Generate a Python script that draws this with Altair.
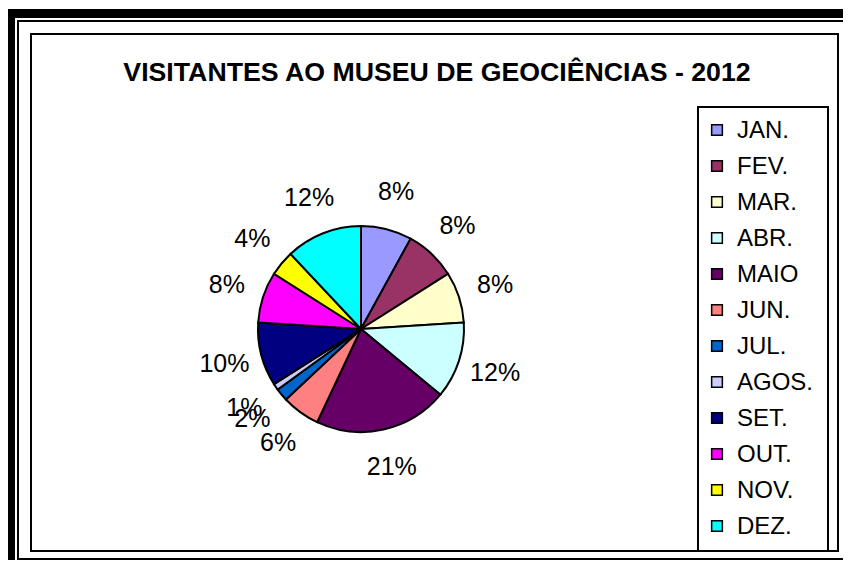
import altair as alt
import pandas as pd

# ---- data ----
months = ["JAN.", "FEV.", "MAR.", "ABR.", "MAIO", "JUN.", "JUL.", "AGOS.",
          "SET.", "OUT.", "NOV.", "DEZ."]
share = [8, 8, 8, 12, 21, 6, 2, 1, 10, 8, 4, 12]
colors = ["#9999FF", "#993366", "#FFFFCC", "#CCFFFF", "#660066", "#FF8080",
          "#0066CC", "#CCCCFF", "#000080", "#FF00FF", "#FFFF00", "#00FFFF"]
title_text = "VISITANTES AO MUSEU DE GEOCIÊNCIAS - 2012"

df = pd.DataFrame({
    "mes": months,
    "valor": share,
    "ordem": list(range(len(months))),
    "rotulo": [f"{v}%" for v in share],
})
one = pd.DataFrame({"t": [title_text]})

W, H = 835, 552
CX, CY, R = 353, 321, 103
FONT = "Liberation Sans"

color = alt.Color(
    "mes:N",
    sort=months,
    scale=alt.Scale(domain=months, range=colors),
    legend=None,
)

pie = alt.Chart(df).mark_arc(
    outerRadius=R, stroke="black", strokeWidth=2
).encode(
    theta=alt.Theta("valor:Q", stack=True),
    color=color,
    order=alt.Order("ordem:Q"),
    x=alt.value(CX), y=alt.value(CY),
)

labels = alt.Chart(df).mark_text(
    radius=141, font=FONT, fontSize=25, color="black",
    align="center", baseline="middle"
).encode(
    theta=alt.Theta("valor:Q", stack=True),
    order=alt.Order("ordem:Q"),
    text="rotulo:N",
    x=alt.value(CX), y=alt.value(CY),
)

# hand-built legend (square swatches with black outline)
leg_y = alt.Y("mes:N", sort=months, axis=None,
              scale=alt.Scale(type="point", domain=months, range=[122, 518], padding=0))
leg_sq = alt.Chart(df).mark_square(
    size=115, stroke="black", strokeWidth=1.5, opacity=1
).encode(y=leg_y, color=color, x=alt.value(709))
leg_txt = alt.Chart(df).mark_text(
    font=FONT, fontSize=24, color="black", align="left", baseline="middle", dy=1
).encode(y=leg_y, text="mes:N", x=alt.value(729))


# frame decorations
def box(x1, x2, y1, y2, **kw):
    return alt.Chart(one).mark_rect(**kw).encode(
        x=alt.value(x1), x2=alt.value(x2), y=alt.value(y1), y2=alt.value(y2)
    )

thick_top = box(-1, W, 1, 10, color="black")
thick_left = box(-1, 7, 1, H, color="black")
thin = box(10, W + 10, 13, H - 1, fill=None, fillOpacity=0, stroke="black", strokeWidth=2)
chart_box = box(23, 830, 26, 543, fill="white", stroke="black", strokeWidth=2)
legend_box = box(690, 820, 99, 543, fill=None, fillOpacity=0, stroke="black", strokeWidth=2)

title = alt.Chart(one).mark_text(
    font=FONT, fontSize=26.7, fontWeight="bold", color="black",
    align="center", baseline="middle"
).encode(text="t:N", x=alt.value(429), y=alt.value(65))

chart = alt.layer(
    thick_top, thick_left, thin, chart_box, legend_box, title, pie, labels,
    leg_sq, leg_txt
).properties(
    width=W, height=H, autosize=alt.AutoSizeParams(type="none"), padding=0,
    background="white",
).configure_view(stroke=None)

chart.save("out.html", embed_options={"renderer": "svg", "actions": False})
